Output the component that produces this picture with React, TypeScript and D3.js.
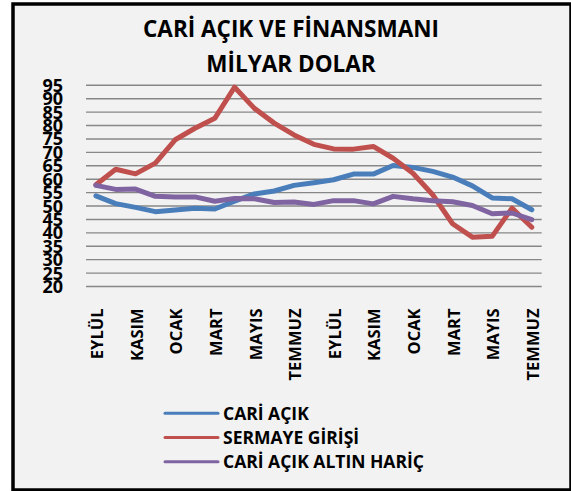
import React, { useRef, useEffect } from 'react';
import * as d3 from 'd3';

const months = [
  'EYLÜL', 'EKİM', 'KASIM', 'ARALIK', 'OCAK', 'ŞUBAT', 'MART', 'NİSAN', 'MAYIS', 'HAZİRAN', 'TEMMUZ', 'AĞUSTOS',
  'EYLÜL', 'EKİM', 'KASIM', 'ARALIK', 'OCAK', 'ŞUBAT', 'MART', 'NİSAN', 'MAYIS', 'HAZİRAN', 'TEMMUZ',
];
const cariAcik = [53.8, 50.9, 49.5, 47.9, 48.5, 49.2, 48.9, 51.8, 54.5, 55.6, 57.7, 58.7, 59.8, 61.9, 61.9, 65.1, 64.4, 62.9, 60.8, 57.5, 53, 52.7, 48.6];
const sermayeGirisi = [57.9, 63.7, 62, 66, 74.7, 79, 82.7, 94.3, 86.4, 80.9, 76.5, 73, 71.3, 71.2, 72.2, 67.8, 62.2, 54.2, 43.4, 38.4, 38.7, 49.2, 42.1];
const altinHaric = [57.7, 56.2, 56.3, 53.6, 53.4, 53.4, 51.8, 52.8, 52.7, 51.3, 51.5, 50.6, 52, 52, 50.8, 53.6, 52.7, 52, 51.6, 50.2, 47.1, 47.4, 44.9];
const yTicks = [20, 25, 30, 35, 40, 45, 50, 55, 60, 65, 70, 75, 80, 85, 90, 95];
const seriesNames = ['CARİ AÇIK', 'SERMAYE GİRİŞİ', 'CARİ AÇIK ALTIN HARİÇ'];
const seriesColors = ['#4A7EBB', '#C0504D', '#8064A2'];

const FONT = '"Open Sans", sans-serif';

const Chart = () => {
  const ref = useRef<SVGSVGElement>(null);

  useEffect(() => {
    const svg = d3.select(ref.current);
    svg.selectAll('*').remove();
    const width = 571;
    const height = 491;
    svg.attr('width', width).attr('height', height);

    // frame
    svg.append('rect').attr('width', width).attr('height', height).attr('fill', '#fff');
    svg.append('rect')
      .attr('x', 13).attr('y', 4).attr('width', 558).attr('height', 486)
      .attr('fill', '#F2F2F2').attr('stroke', '#000').attr('stroke-width', 3.5);

    // title
    const title = svg.append('text')
      .attr('text-anchor', 'middle')
      .attr('font-family', FONT).attr('font-weight', 700).attr('font-size', 22.5)
      .attr('fill', '#000');
    title.append('tspan').attr('x', 291).attr('y', 37).text('CARİ AÇIK VE FİNANSMANI');
    title.append('tspan').attr('x', 291).attr('y', 71.5).text('MİLYAR DOLAR');

    const x = d3.scaleBand<number>().domain(d3.range(months.length)).range([86, 541.7]);
    const y = d3.scaleLinear().domain([20, 95]).range([286.5, 85.3]);
    const cx = (i: number) => (x(i) as number) + x.bandwidth() / 2;

    // gridlines
    svg.append('g')
      .selectAll('line')
      .data(yTicks)
      .enter()
      .append('line')
      .attr('x1', 86).attr('x2', 541.7)
      .attr('y1', (d) => y(d)).attr('y2', (d) => y(d))
      .attr('stroke', '#878787').attr('stroke-width', 1.4);

    // y labels (squeezed together as in the original)
    svg.append('g')
      .selectAll('text')
      .data(yTicks)
      .enter()
      .append('text')
      .attr('x', 63).attr('y', (d) => y(d)).attr('dy', '0.36em')
      .attr('text-anchor', 'end')
      .attr('font-family', FONT).attr('font-weight', 700).attr('font-size', 18)
      .text((d) => d);

    // x labels (every other month)
    svg.append('g')
      .selectAll('text')
      .data(months.map((m, i) => ({ m, i })).filter((d) => d.i % 2 === 0))
      .enter()
      .append('text')
      .attr('transform', (d) => `translate(${cx(d.i) + 1.2}, 308.5) rotate(-90)`)
      .attr('dy', '0.36em')
      .attr('text-anchor', 'end')
      .attr('font-family', FONT).attr('font-weight', 700).attr('font-size', 16.5)
      .text((d) => d.m);

    // lines
    const line = d3.line<number>().x((d, i) => cx(i)).y((d) => y(d));
    [cariAcik, sermayeGirisi, altinHaric].forEach((s, k) => {
      svg.append('path')
        .attr('d', line(s))
        .attr('fill', 'none')
        .attr('stroke', seriesColors[k])
        .attr('stroke-width', 5)
        .attr('stroke-linejoin', 'round')
        .attr('stroke-linecap', 'round');
    });

    // legend
    const legend = svg.append('g')
      .selectAll('g')
      .data(seriesNames)
      .enter()
      .append('g')
      .attr('transform', (d, i) => `translate(165, ${413.3 + i * 24.2})`);
    legend.append('line')
      .attr('x1', 0).attr('x2', 53)
      .attr('stroke', (d, i) => seriesColors[i])
      .attr('stroke-width', 3)
      .attr('stroke-linecap', 'round');
    legend.append('text')
      .attr('x', 58).attr('dy', '0.36em')
      .attr('font-family', FONT).attr('font-weight', 700).attr('font-size', 17.5)
      .text((d) => d);
  }, []);

  return <svg ref={ref} style={{ position: 'absolute', left: 0, top: 0 }}></svg>;
};

export default function App() {
  return <Chart />;
}
